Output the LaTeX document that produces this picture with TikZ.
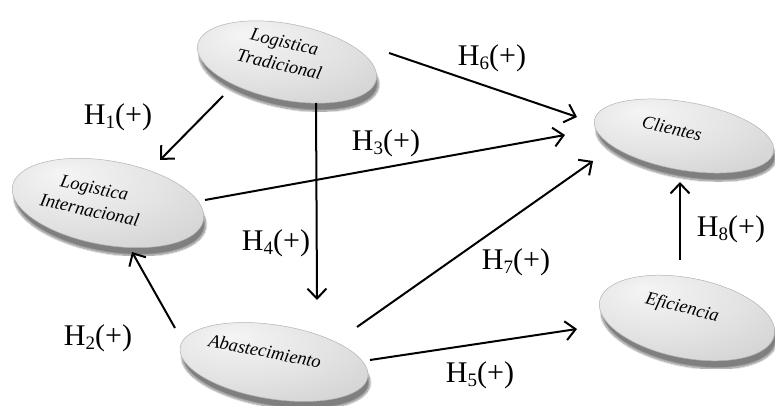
\documentclass[tikz,border=0pt]{standalone}
\usepackage{fontspec}
\setmainfont{Liberation Serif}
\usetikzlibrary{shapes.geometric,arrows.meta,shadows.blur,calc}
\pgfdeclareradialshading{pillshade}{\pgfpoint{-12bp}{14bp}}{color(0bp)=(gray!8); color(22bp)=(gray!22); color(40bp)=(gray!36); color(50bp)=(gray!52); color(58bp)=(gray!66)}
\tikzset{
  pill/.style={ellipse, inner sep=0pt, shading=pillshade, draw=gray!60, line width=0.5pt,
    blur shadow={shadow xshift=2pt, shadow yshift=-8pt, shadow blur steps=14, shadow opacity=50}},
  pilltext/.style={font=\fontsize{18.5}{23}\selectfont\itshape, align=center, text=black, inner sep=0pt},
  hyp/.style={font=\fontsize{30}{32}\selectfont, inner sep=0pt},
  conn/.style={line width=2pt, -{Straight Barb[length=10pt,width=19pt,line width=2pt]}}
}
\newcommand{\hypl}[1]{H\raisebox{-0.15em}{\fontsize{19}{19}\selectfont #1}(+)}
\begin{document}
\begin{tikzpicture}[x=1pt,y=-1pt]
\useasboundingbox (0,0) rectangle (775,406);
% nodes
\node[pill, minimum width=182pt, minimum height=76pt, rotate=-11] (lt) at (287,62) {};
\node[pill, minimum width=194pt, minimum height=84pt, rotate=-10] (li) at (108,203) {};
\node[pill, minimum width=190pt, minimum height=74pt, rotate=-9] (ab) at (274,362) {};
\node[pill, minimum width=182pt, minimum height=68pt, rotate=-10] (cl) at (684,136) {};
\node[pill, minimum width=178pt, minimum height=80pt, rotate=-11] (ef) at (687,318) {};
\node[pilltext, rotate=-13] (ltt) at ($(lt)+(-5,-9)$) {Logistica\\Tradicional};
\node[pilltext, rotate=-12] (lit) at ($(li)+(-16,-4)$) {Logistica\\Internacional};
\node[pilltext, rotate=-11] (abt) at ($(ab)+(-9,-11)$) {Abastecimiento};
\node[pilltext, rotate=-13] (clt) at ($(cl)+(-12,-8)$) {Clientes};
\node[pilltext, rotate=-14] (eft) at ($(ef)+(-5,-10)$) {Eficiencia};
% connectors
\draw[conn] ($(lt)+(-64,34)$) -- ($(li)+(52,-43)$);
\draw[conn] ($(lt)+(29,41)$) -- ($(ab)+(43,-62)$);
\draw[conn] ($(lt)+(102,-9)$) -- ($(cl)+(-107,-19)$);
\draw[conn] ($(li)+(97,-3)$) -- ($(cl)+(-119,-1)$);
\draw[conn] ($(ab)+(-99,-34)$) -- ($(li)+(24,49)$);
\draw[conn] ($(ab)+(83,-35)$) -- ($(cl)+(-91,25)$);
\draw[conn] ($(ab)+(96,-2)$) -- ($(ef)+(-110,11)$);
\draw[conn] ($(ef)+(-7,-58)$) -- ($(cl)+(-4,46)$);
% labels
\node[hyp] (h1) at (118,117) {\hypl{1}};
\node[hyp] (h6) at (492,58) {\hypl{6}};
\node[hyp] (h3) at (386,143) {\hypl{3}};
\node[hyp] (h4) at (276,243) {\hypl{4}};
\node[hyp] (h7) at (516,262) {\hypl{7}};
\node[hyp] (h2) at (98,338) {\hypl{2}};
\node[hyp] (h5) at (480,375) {\hypl{5}};
\node[hyp] (h8) at (731,229) {\hypl{8}};
\end{tikzpicture}
\end{document}
